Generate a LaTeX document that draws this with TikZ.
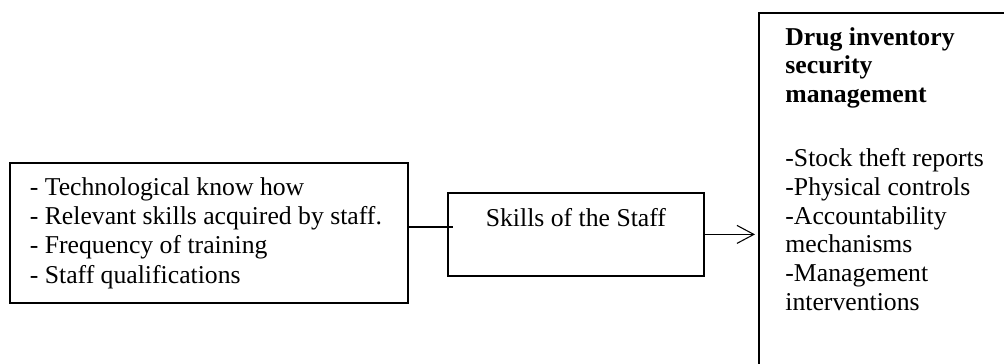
\documentclass[tikz,border=0pt]{standalone}
\usepackage{fontspec}
\setmainfont{Liberation Serif}
\usetikzlibrary{arrows.meta}

\begin{document}
\begin{tikzpicture}[x=0.467pt, y=-0.467pt]
  \tikzset{FrameStyle/.style={draw, rectangle, line width=0.8pt, inner sep=0pt,
                              font=\fontsize{12}{13.7}\selectfont},
           LinkStyle/.style={draw, line width=0.5pt},
           ArrowStyle/.style={LinkStyle, -{Straight Barb[length=7.9pt,width=8.4pt]},
                              shorten >=1.4pt}}
  \useasboundingbox (0,0) rectangle (1004,363);
  \clip (0,0) rectangle (1004,363);

% indicators
\node[FrameStyle, anchor=north west, minimum width=185.9pt, minimum height=65.4pt,
      inner xsep=9.3pt, text width=167.2pt, align=flush left] (factors) at (9,162)
    {- Technological know how\\
     \mbox{- Relevant skills acquired by staff.}\\
     - Frequency of training\\
     - Staff qualifications};

% middle box
\node[FrameStyle, anchor=north west, minimum width=119.6pt, minimum height=38.8pt,
      inner ysep=4pt, text height=11.9pt, text depth=18.9pt] (skills) at (447,192)
    {Skills of the Staff};

% outcome box
\node[FrameStyle, anchor=north west, minimum width=120pt, minimum height=170pt]
    (security) at (758,12) {};
\node[anchor=north west, inner sep=0pt, text width=100pt, align=flush left,
      font=\fontsize{12}{13.4}\selectfont] (securitytext) at (785,27)
    {\textbf{Drug inventory}\\
     \textbf{security}\\
     \textbf{management}\\[16.5pt]
     -Stock theft reports\\
     -Physical controls\\
     -Accountability\\
     mechanisms\\
     -Management\\
     interventions};

% connectors
\coordinate (joint) at (453,227);
\draw[LinkStyle] (factors.east |- joint) -- (joint);
\draw[ArrowStyle] (skills.east) -- (security.west |- skills.east);
\end{tikzpicture}
\end{document}
